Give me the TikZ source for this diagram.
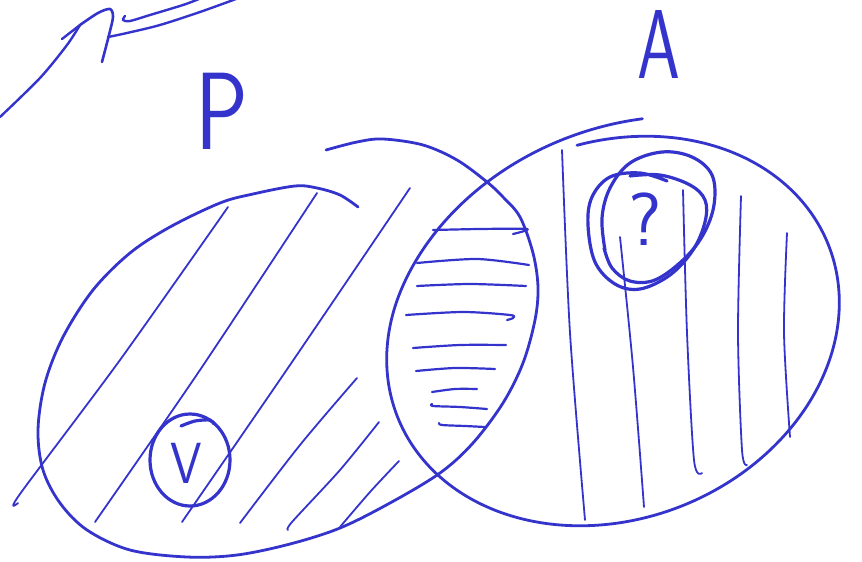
\documentclass[tikz,border=0pt]{standalone}
\usepackage{fontspec}
\definecolor{ink}{RGB}{52,52,204}
\begin{document}
\begin{tikzpicture}[x=1pt,y=-1pt,
  outline/.style={draw=ink,line width=2.8pt,line cap=round,line join=round},
  loopline/.style={draw=ink,line width=3.2pt,line cap=round,line join=round},
  hatch/.style={draw=ink,line width=1.8pt,line cap=round,line join=round},
  hhatch/.style={draw=ink,line width=2.2pt,line cap=round,line join=round},
  lbl/.style={text=ink,inner sep=0pt,font=\sffamily}]
\useasboundingbox (0,0) rectangle (862,562);

% top-left arrow and strokes
\coordinate (arrS) at (0,117);
\coordinate (arrT) at (80,25);
\coordinate (barb) at (62,39);
\draw[outline,line width=2.4pt] plot[smooth] coordinates {(arrS) (40,78) (67,45) (arrT)};
\draw[outline,line width=2.4pt] (barb) -- (arrT);
\draw[outline,line width=2.6pt] plot[smooth] coordinates {(arrT) (98,13) (110,9) (113,17) (109,35) (102,62)};
\draw[outline,line width=2.4pt] plot[smooth] coordinates {(108,37) (127,33) (160,25) (200,12) (236,-1)};
\draw[outline,line width=2.4pt] plot[smooth] coordinates {(125,16) (123,20) (130,21) (150,15) (183,5) (199,-1)};

% labels
\node[lbl,font=\sffamily\fontsize{110}{110}\selectfont] (P) at (222,111) {\scalebox{0.8}[1]{P}};
\node[lbl,font=\sffamily\fontsize{98}{98}\selectfont] (A) at (659,44) {\scalebox{0.7}[1]{A}};

% left set P
\draw[outline] plot[smooth,tension=0.55] coordinates {(358,207) (340,195) (317,188) (295,186) (253,194) (220,203) (170,227) (130,253) (93,290) (63,337) (45,383) (38,430) (43,470) (60,503) (87,530) (130,550) (187,557) (237,555) (290,544) (340,528) (390,503) (440,473) (473,443) (503,403) (523,363) (535,320) (538,287) (533,253) (520,217) (503,197) (487,182) (457,160) (423,145) (383,139) (357,142) (326,150)};

% right set A (slightly spiralling ellipse)
\draw[outline] plot[domain=-81:295,samples=160,smooth,variable=\t]
  ({613 + (1+0.09*(max(0,\t-220)/75)^2)*(232*cos(\t)*0.927 + 188*sin(\t)*0.375)},
   {331 + (1+0.09*(max(0,\t-220)/75)^2)*(-232*cos(\t)*0.375 + 188*sin(\t)*0.927)});

% diagonal hatching in P
\draw[hatch] plot[smooth] coordinates {(18,503) (20,494) (120,360) (228,207)};
\draw[hatch] plot[smooth] coordinates {(95,522) (200,370) (317,193)};
\draw[hatch] plot[smooth] coordinates {(182,522) (290,365) (410,188)};
\draw[hatch] plot[smooth] coordinates {(240,523) (300,445) (357,378)};
\draw[hatch] plot[smooth] coordinates {(288,530) (292,522) (340,470) (379,422)};
\draw[hatch] plot[smooth] coordinates {(340,527) (370,492) (399,461)};

% horizontal hatching in the intersection
\draw[hhatch] plot[smooth] coordinates {(433,230) (480,229) (527,229) (513,234)};
\draw[hhatch] plot[smooth] coordinates {(417,263) (477,259) (529,265)};
\draw[hhatch] plot[smooth] coordinates {(417,286) (470,284) (526,286)};
\draw[hhatch] plot[smooth] coordinates {(406,315) (463,312) (510,315) (513,318) (507,320)};
\draw[hhatch] plot[smooth] coordinates {(413,348) (460,345) (506,345)};
\draw[hhatch] plot[smooth] coordinates {(416,371) (455,368) (495,369)};
\draw[hhatch] plot[smooth] coordinates {(432,392) (455,389) (477,389)};
\draw[hhatch] plot[smooth] coordinates {(432,404) (433,406) (460,407) (487,409)};
\draw[hhatch] plot[smooth] coordinates {(439,423) (442,425) (465,426) (485,427)};

% vertical hatching in A
\draw[hatch] plot[smooth] coordinates {(562,150) (570,333) (585,520)};
\draw[hatch] plot[smooth] coordinates {(620,237) (633,367) (644,507)};
\draw[hatch] plot[smooth] coordinates {(683,190) (687,333) (694,460) (702,473)};
\draw[hatch] plot[smooth] coordinates {(741,196) (738,333) (742,450) (747,465)};
\draw[hatch] plot[smooth] coordinates {(787,233) (784,333) (790,437)};

% loops around the question mark
\draw[loopline] plot[smooth,tension=0.6] coordinates {(667,181) (640,173) (610,177) (592,197) (588,225) (595,262) (615,284) (640,289) (670,275) (693,250) (705,222) (705,200) (690,185) (660,175) (630,176)};
\draw[loopline] plot[smooth,tension=0.6] coordinates {(605,250) (602,218) (610,188) (630,163) (662,152) (692,157) (712,175) (714,205) (703,235) (683,260) (655,280) (630,281) (612,268) (604,248)};
\node[lbl,font=\sffamily\fontsize{75}{75}\selectfont] (Q) at (645,219) {?};

% circle around V
\draw[loopline] (190,460) ellipse [x radius=40, y radius=46];
\draw[loopline] plot[smooth] coordinates {(181,426) (195,421) (210,420) (214,424)};
\node[lbl,font=\sffamily\fontsize{58}{58}\selectfont] (V) at (186,463) {\scalebox{0.87}[1]{V}};
\end{tikzpicture}
\end{document}
